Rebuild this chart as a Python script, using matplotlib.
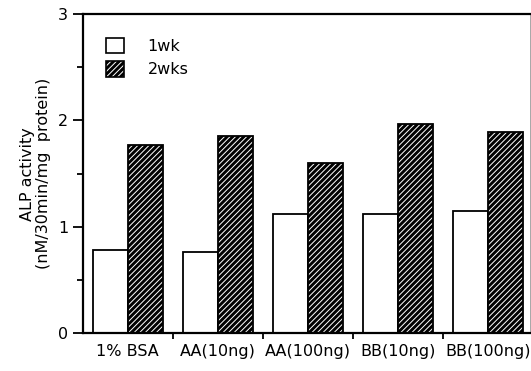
import matplotlib.pyplot as plt
import numpy as np
from matplotlib.patches import Patch
from matplotlib.legend_handler import HandlerTuple

groups = ["1% BSA", "AA(10ng)", "AA(100ng)", "BB(10ng)", "BB(100ng)"]
wk1 = [0.78, 0.76, 1.12, 1.12, 1.15]
wk2 = [1.77, 1.85, 1.60, 1.97, 1.89]

plt.rcParams['font.family'] = ['DejaVu Sans']
plt.rcParams['font.size'] = 11.5
plt.rcParams['hatch.linewidth'] = 0.7

fig = plt.figure(figsize=(5.31, 3.71), dpi=100)
ax = fig.add_axes([0.156, 0.102, 0.842, 0.86])

x = np.arange(len(groups))
w = 0.39
ax.bar(x - w / 2, wk1, w, color='white', edgecolor='black', linewidth=1.3)
# black bars with white hatching, outline drawn on top
ax.bar(x + w / 2, wk2, w, color='black', edgecolor='white', hatch='//////', linewidth=0)
ax.bar(x + w / 2, wk2, w, fill=False, edgecolor='black', linewidth=1.3)

ax.set_xlim(-0.5, 4.47)
ax.set_ylim(0, 3)
ax.set_yticks([0, 1, 2, 3])
ax.set_yticks([0.5, 1.5, 2.5], minor=True)
ax.set_xticks(x)
ax.set_xticklabels(groups)
ax.set_xticks(x[:-1] + 0.5, minor=True)
ax.tick_params(axis='x', which='major', length=0, pad=8)
ax.tick_params(axis='x', which='minor', length=4, width=1.3, direction='out')
ax.tick_params(axis='y', which='major', length=7, width=1.3, direction='out')
ax.tick_params(axis='y', which='minor', length=4, width=1.3, direction='out')
for s in ['left', 'bottom', 'top']:
    ax.spines[s].set_linewidth(1.6)
ax.spines['right'].set_linewidth(0.6)
ax.spines['right'].set_color('#999999')

ax.set_ylabel("ALP activity\n(nM/30min/mg  protein)", labelpad=5, linespacing=1.1)

h1 = Patch(facecolor='white', edgecolor='black', linewidth=1.2)
h2a = Patch(facecolor='black', edgecolor='white', hatch='//////', linewidth=0)
h2b = Patch(fill=False, edgecolor='black', linewidth=1.2)
ax.legend([h1, (h2a, h2b)], ["1wk", "2wks"], handler_map={tuple: HandlerTuple(ndivide=1, pad=0)},
          loc='upper left', bbox_to_anchor=(0.02, 0.97), frameon=False,
          handlelength=1.1, handleheight=1.1, handletextpad=1.5, labelspacing=0.45)

fig.savefig("out.png", dpi=100)
